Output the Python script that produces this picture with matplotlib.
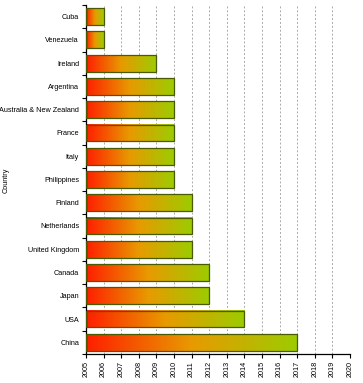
import numpy as np
import matplotlib
matplotlib.use("Agg")
import matplotlib.pyplot as plt
from matplotlib.colors import LinearSegmentedColormap
from matplotlib.patches import Rectangle

countries = ["Cuba", "Venezuela", "Ireland", "Argentina", "Australia & New Zealand",
             "France", "Italy", "Philippines", "Finland", "Netherlands",
             "United Kingdom", "Canada", "Japan", "USA", "China"]
years = [2006, 2006, 2009, 2010, 2010, 2010, 2010, 2010, 2011, 2011, 2011,
         2012, 2012, 2014, 2017]
year_ticks = list(range(2005, 2021))

plt.rcParams["font.family"] = ["Liberation Sans", "DejaVu Sans"]

cmap = LinearSegmentedColormap.from_list("rg", ["#ff1e00", "#e89a00", "#9ccc00"])
grad = np.linspace(0, 1, 256)[None, :]

fig = plt.figure(figsize=(3.63, 3.83), dpi=100)
ax = fig.add_axes([0.237, 0.076, 0.727, 0.911])

n = len(countries)
h = 0.72
for i, (c, v) in enumerate(zip(countries, years)):
    y = n - 1 - i
    ax.imshow(grad, cmap=cmap, aspect="auto", extent=(2005, v, y - h / 2, y + h / 2),
              interpolation="bilinear", zorder=2)
    ax.add_patch(Rectangle((2005, y - h / 2), v - 2005, h, fill=False,
                           edgecolor="#4a5a00", lw=0.9, zorder=3))

ax.set_xlim(2005, 2020)
ax.set_ylim(-0.5, n - 0.5)
ax.set_xticks(year_ticks)
ax.set_xticklabels([str(t) for t in year_ticks], rotation=90, fontsize=5.2)
ax.set_yticks(range(n))
ax.set_yticklabels(countries[::-1], fontsize=5.2)
ax.set_yticks(np.arange(-0.5, n, 1), minor=True)
ax.tick_params(axis="y", which="major", length=0, pad=5)
ax.tick_params(axis="y", which="minor", length=3, width=0.8)
ax.tick_params(axis="x", length=3, width=0.8, pad=2)
ax.xaxis.grid(True, linestyle=(0, (2, 2)), color="#aaaaaa", lw=0.7, zorder=0)
ax.set_axisbelow(True)
for s in ["top", "right"]:
    ax.spines[s].set_visible(False)
ax.spines["left"].set_linewidth(0.9)
ax.spines["bottom"].set_linewidth(0.9)
fig.text(0.017, 0.53, "Country", rotation=90, fontsize=5.2, ha="center", va="center")

fig.savefig("out.png", dpi=100)
